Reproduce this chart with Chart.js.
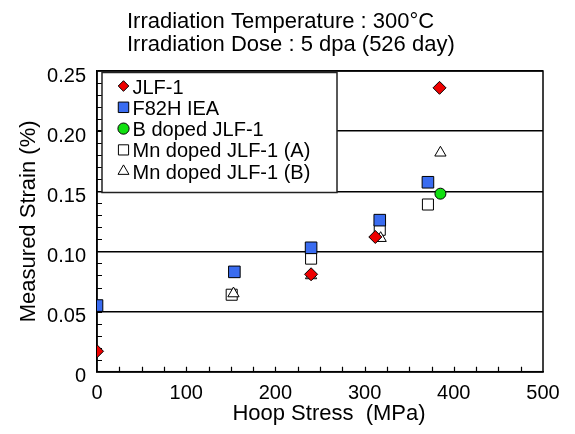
<!DOCTYPE html>
<html><head><meta charset="utf-8">
<script src="https://cdn.jsdelivr.net/npm/chart.js@4.4.0/dist/chart.umd.min.js"></script>
<style>html,body{margin:0;padding:0;background:#fff}</style>
</head><body>
<canvas id="c" width="575" height="434"></canvas>
<script>
const FONT = "'Liberation Sans', Arial, Helvetica, sans-serif";
const titleLines = ['Irradiation Temperature : 300°C', 'Irradiation Dose : 5 dpa (526 day)'];
const xAxisTitle = 'Hoop Stress  (MPa)';
const yAxisTitle = 'Measured Strain (%)';
const seriesNames = ['JLF-1', 'F82H IEA', 'B doped JLF-1', 'Mn doped JLF-1 (A)', 'Mn doped JLF-1 (B)'];
const jlf1X = [0, 240, 312, 384];
const jlf1Y = [0.017, 0.081, 0.112, 0.236];
const f82hX = [0, 154, 240, 317, 371];
const f82hY = [0.055, 0.083, 0.103, 0.126, 0.1575];
const bDopedX = [385];
const bDopedY = [0.148];
const mnAX = [151, 240, 317, 371];
const mnAY = [0.064, 0.094, 0.118, 0.139];
const mnBX = [153, 240, 318, 385];
const mnBY = [0.065, 0.080, 0.111, 0.182];
const xTickLabels = ['0', '100', '200', '300', '400', '500'];
const yTickLabels = ['0', '0.05', '0.10', '0.15', '0.20', '0.25'];

const pts = (xs, ys) => xs.map((x, i) => ({x: x, y: ys[i]}));

const styles = [
  {pointStyle: 'rectRot', radius: 6.5, bg: '#ee0000', legendR: 5.3, order: 0},
  {pointStyle: 'rect', radius: 8.2, bg: '#3a6cf0', legendR: 7.4, order: 1},
  {pointStyle: 'circle', radius: 5.5, bg: '#11e011', legendR: 5.6, order: 4},
  {pointStyle: 'rect', radius: 7.8, bg: '#ffffff', legendR: 7.2, order: 3},
  {pointStyle: 'triangle', radius: 6.5, bg: '#ffffff', legendR: 6.3, order: 2}
];
const seriesData = [pts(jlf1X, jlf1Y), pts(f82hX, f82hY), pts(bDopedX, bDopedY), pts(mnAX, mnAY), pts(mnBX, mnBY)];

const datasets = seriesNames.map((name, i) => ({
  label: name,
  data: seriesData[i],
  showLine: false,
  pointStyle: styles[i].pointStyle,
  pointRadius: styles[i].radius,
  pointHoverRadius: styles[i].radius,
  backgroundColor: styles[i].bg,
  borderColor: '#000',
  pointBorderWidth: 1,
  order: styles[i].order
}));

function drawMarker(ctx, style, r, bg, x, y) {
  ctx.save();
  ctx.fillStyle = bg;
  ctx.strokeStyle = '#000';
  ctx.lineWidth = 1;
  if (Chart.helpers && Chart.helpers.drawPoint) {
    Chart.helpers.drawPoint(ctx, {pointStyle: style, radius: r, rotation: 0, borderWidth: 1}, x, y);
  }
  ctx.restore();
}

const customPlugin = {
  id: 'custom',
  beforeDatasetsDraw(chart) {
    const {ctx, chartArea: a, scales: {x, y}} = chart;
    ctx.save();
    ctx.strokeStyle = '#000';
    ctx.lineWidth = 1.2;
    ctx.beginPath();
    for (let v = 25; v < 500; v += 25) {
      const px = Math.round(x.getPixelForValue(v)) + 0.5;
      ctx.moveTo(px, a.bottom);
      ctx.lineTo(px, a.bottom - 5);
    }
    for (let k = 1; k < 25; k++) {
      const py = Math.round(y.getPixelForValue(k / 100)) + 0.5;
      ctx.moveTo(a.left, py);
      ctx.lineTo(a.left + 5, py);
    }
    ctx.stroke();
    ctx.lineWidth = 1.5;
    ctx.strokeRect(a.left, a.top, a.right - a.left, a.bottom - a.top);
    ctx.restore();
  },
  afterDatasetsDraw(chart) {
    const ctx = chart.ctx;
    ctx.save();
    const lx = 102, ly = 72.5, lw = 235, lh = 120;
    ctx.fillStyle = '#fff';
    ctx.fillRect(lx, ly, lw, lh);
    ctx.strokeStyle = '#222';
    ctx.lineWidth = 1.5;
    ctx.strokeRect(lx, ly, lw, lh);
    ctx.font = '20px ' + FONT;
    ctx.textBaseline = 'middle';
    ctx.textAlign = 'left';
    chart.data.datasets.forEach((ds, i) => {
      const ty = 88 + i * 21.3;
      drawMarker(ctx, styles[i].pointStyle, styles[i].legendR, styles[i].bg, 123.5, ty - 2);
      ctx.fillStyle = '#000';
      ctx.fillText(ds.label, 132.5, ty);
    });
    ctx.fillStyle = '#000';
    ctx.textAlign = 'left';
    ctx.font = '22px ' + FONT;
    ctx.fillText(titleLines[0], 127, 22);
    ctx.fillText(titleLines[1], 127, 45);
    ctx.textAlign = 'center';
    ctx.fillText(xAxisTitle, 329, 414);
    ctx.restore();
  }
};

new Chart(document.getElementById('c'), {
  type: 'scatter',
  data: {datasets: datasets},
  options: {
    responsive: false,
    animation: false,
    layout: {padding: {left: 0, right: 32, top: 71, bottom: 0}},
    plugins: {legend: {display: false}, tooltip: {enabled: false}, title: {display: false}},
    scales: {
      x: {
        type: 'linear', min: 0, max: 500,
        afterFit: s => { s.height = 62.3; },
        ticks: {
          stepSize: 100, color: '#000', padding: 10,
          font: {family: FONT, size: 20},
          callback: (v) => { const i = xTickLabels.indexOf(String(v)); return i >= 0 ? xTickLabels[i] : ''; }
        },
        grid: {display: false, drawTicks: false},
        border: {display: true, color: '#000', width: 1.5},
        title: {display: false}
      },
      y: {
        type: 'linear', min: 0, max: 0.25,
        afterFit: s => { s.width = 97; },
        ticks: {
          stepSize: 0.05, color: '#000', padding: 11, labelOffset: 5,
          font: {family: FONT, size: 20},
          callback: (v) => yTickLabels[Math.round(v / 0.05)]
        },
        grid: {display: true, color: '#000', lineWidth: 1.5, drawTicks: false},
        border: {display: true, color: '#000', width: 1.5},
        title: {display: true, text: yAxisTitle, color: '#000', font: {family: FONT, size: 22}, padding: {top: 16, bottom: 0}}
      }
    }
  },
  plugins: [customPlugin]
});
</script>
</body></html>
